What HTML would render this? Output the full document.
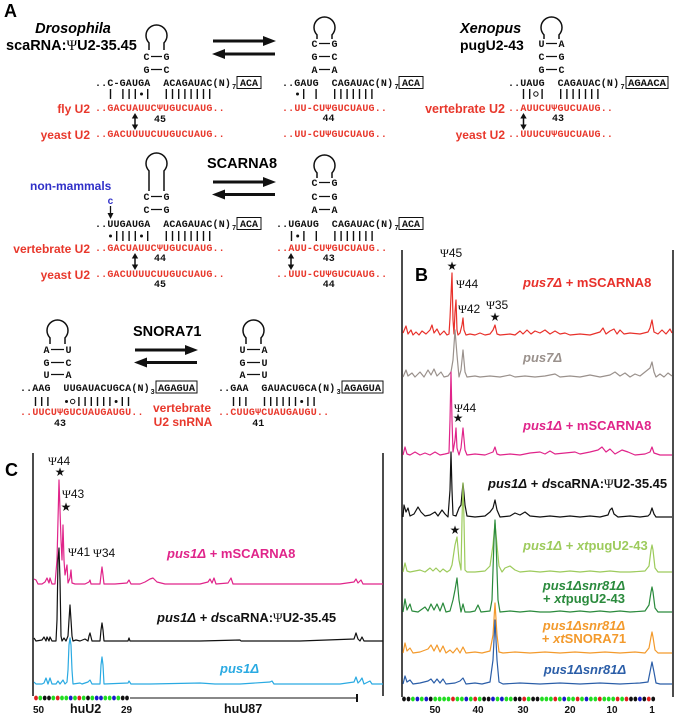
<!DOCTYPE html>
<html><head><meta charset="utf-8"><style>
html,body{margin:0;padding:0;background:#fff}
svg{display:block}
.sq{font-family:"Liberation Mono",monospace;font-weight:bold;font-size:10px}
.lb{font-family:"Liberation Sans",sans-serif;font-weight:bold}
.sf{font-family:"Liberation Serif",serif;font-weight:normal}
.pk{font-family:"Liberation Sans",sans-serif;font-size:12px}
.st{font-family:"DejaVu Sans",sans-serif;font-size:12px}
</style></head><body>
<svg width="675" height="715" viewBox="0 0 675 715" xmlns="http://www.w3.org/2000/svg">
<rect width="675" height="715" fill="#fff"/>

<!-- ===== PANEL A ===== -->
<text class="lb" x="4" y="17" font-size="18">A</text>
<text class="lb" x="73" y="33" font-size="14.5" font-style="italic" text-anchor="middle">Drosophila</text>
<text class="lb" x="6" y="50" font-size="14.5">scaRNA:<tspan class="sf">Ψ</tspan>U2-35.45</text>
<text class="lb" x="460" y="33" font-size="14.5" font-style="italic">Xenopus</text>
<text class="lb" x="460" y="50" font-size="14">pugU2-43</text>

<!-- loops -->
<g fill="none" stroke="#111" stroke-width="1.5">
<path d="M149,50 L149,42.85 A10.5,10.5 0 1 1 164,42.85 L164,50"/>
<path d="M317,39 L317,34.85 A10.5,10.5 0 1 1 332,34.85 L332,39"/>
<path d="M544,39 L544,34.85 A10.5,10.5 0 1 1 559,34.85 L559,39"/>
<path d="M149,191 L149,170.85 A10.5,10.5 0 1 1 164,170.85 L164,191"/>
<path d="M317,178 L317,172.85 A10.5,10.5 0 1 1 332,172.85 L332,178"/>
<path d="M50,344 L50,337.85 A10.5,10.5 0 1 1 65,337.85 L65,344"/>
<path d="M246,344 L246,337.85 A10.5,10.5 0 1 1 261,337.85 L261,344"/>
</g>

<!-- base pairs -->
<g class="sq" text-anchor="middle" fill="#111">
<text x="146.5" y="60">C</text><text x="166.5" y="60">G</text>
<text x="146.5" y="73">G</text><text x="166.5" y="73">C</text>
<text x="314.5" y="47">C</text><text x="334.5" y="47">G</text>
<text x="314.5" y="60">G</text><text x="334.5" y="60">C</text>
<text x="314.5" y="73">A</text><text x="334.5" y="73">A</text>
<text x="541.5" y="47">U</text><text x="561.5" y="47">A</text>
<text x="541.5" y="60">C</text><text x="561.5" y="60">G</text>
<text x="541.5" y="73">G</text><text x="561.5" y="73">C</text>
<text x="146.5" y="200">C</text><text x="166.5" y="200">G</text>
<text x="146.5" y="213">C</text><text x="166.5" y="213">G</text>
<text x="314.5" y="186">C</text><text x="334.5" y="186">G</text>
<text x="314.5" y="200">C</text><text x="334.5" y="200">G</text>
<text x="314.5" y="213">A</text><text x="334.5" y="213">A</text>
<text x="46.5" y="353">A</text><text x="68.5" y="353">U</text>
<text x="46.5" y="366">G</text><text x="68.5" y="366">C</text>
<text x="46.5" y="378">U</text><text x="68.5" y="378">A</text>
<text x="242.5" y="353">U</text><text x="264.5" y="353">A</text>
<text x="242.5" y="366">G</text><text x="264.5" y="366">U</text>
<text x="242.5" y="378">A</text><text x="264.5" y="378">U</text>
</g>
<g stroke="#111" stroke-width="1.2">
<path d="M151,56.5h11 M151,69.5h11 M319,43.5h11 M319,56.5h11 M319,69.5h11 M546,43.5h11 M546,56.5h11 M546,69.5h11 M151,196.5h11 M151,209.5h11 M319,182.5h11 M319,196.5h11 M319,209.5h11 M51,349.5h13 M51,362.5h13 M51,374.5h13 M247,349.5h13 M247,362.5h13 M247,374.5h13"/>
</g>

<!-- black sequences -->
<g class="sq" fill="#111">
<text x="95" y="86" textLength="55.3" lengthAdjust="spacing">..C-GAUGA</text>
<text x="163.2" y="86" textLength="67.7" lengthAdjust="spacing">ACAGAUAC(N)</text>
<text x="232" y="89" font-size="7">7</text>
<text x="282" y="86" textLength="36.7" lengthAdjust="spacing">..GAUG</text>
<text x="331.6" y="86" textLength="61.5" lengthAdjust="spacing">CAGAUAC(N)</text>
<text x="394.5" y="89" font-size="7">7</text>
<text x="508" y="86" textLength="36.7" lengthAdjust="spacing">..UAUG</text>
<text x="557.6" y="86" textLength="61.5" lengthAdjust="spacing">CAGAUAC(N)</text>
<text x="620.5" y="89" font-size="7">7</text>
<text x="95" y="227" textLength="55.3" lengthAdjust="spacing">..UUGAUGA</text>
<text x="163.2" y="227" textLength="67.7" lengthAdjust="spacing">ACAGAUAC(N)</text>
<text x="232" y="230" font-size="7">7</text>
<text x="276" y="227" textLength="42.9" lengthAdjust="spacing">..UGAUG</text>
<text x="331.8" y="227" textLength="61.5" lengthAdjust="spacing">CAGAUAC(N)</text>
<text x="394.5" y="230" font-size="7">7</text>
<text x="20" y="391" textLength="30.5" lengthAdjust="spacing">..AAG</text>
<text x="63.4" y="391" textLength="86.3" lengthAdjust="spacing">UUGAUACUGCA(N)</text>
<text x="150.5" y="394" font-size="7">3</text>
<text x="218" y="391" textLength="30.5" lengthAdjust="spacing">..GAA</text>
<text x="261.4" y="391" textLength="73.9" lengthAdjust="spacing">GAUACUGCA(N)</text>
<text x="336.5" y="394" font-size="7">3</text>
<!-- numbers -->
<g text-anchor="middle">
<text x="160" y="122">45</text>
<text x="328.5" y="121">44</text>
<text x="558" y="121">43</text>
<text x="160" y="261">44</text>
<text x="160" y="287">45</text>
<text x="328.7" y="261">43</text>
<text x="328.7" y="287">44</text>
<text x="60" y="426">43</text>
<text x="258.3" y="426">41</text>
</g>
</g>

<!-- boxes -->
<g fill="none" stroke="#111" stroke-width="1">
<rect x="237" y="76.5" width="24" height="12"/>
<rect x="399" y="76.5" width="24" height="12"/>
<rect x="626" y="76.5" width="42" height="12"/>
<rect x="237" y="217.5" width="24" height="12"/>
<rect x="399" y="217.5" width="24" height="12"/>
<rect x="156" y="381" width="41" height="12"/>
<rect x="342" y="381" width="41" height="12"/>
</g>
<g class="sq" fill="#111" text-anchor="middle">
<text x="249" y="86">ACA</text>
<text x="411" y="86">ACA</text>
<text x="647" y="86" textLength="38" lengthAdjust="spacingAndGlyphs">AGAACA</text>
<text x="249" y="227">ACA</text>
<text x="411" y="227">ACA</text>
<text x="176.5" y="391" textLength="37" lengthAdjust="spacingAndGlyphs">AGAGUA</text>
<text x="362.5" y="391" textLength="37" lengthAdjust="spacingAndGlyphs">AGAGUA</text>
</g>

<!-- ticks -->
<g stroke="#111" stroke-width="1.4" fill="none">
<path d="M110.5,89v10 M122.9,89v10 M129.1,89v10 M135.3,89v10 M147.7,89v10 M166.3,89v10 M172.5,89v10 M178.7,89v10 M184.9,89v10 M191.1,89v10 M197.3,89v10 M203.5,89v10 M209.7,89v10"/>
<path d="M303.7,89v10 M316.1,89v10 M334.7,89v10 M340.9,89v10 M347.1,89v10 M353.3,89v10 M359.5,89v10 M365.7,89v10 M371.9,89v10"/>
<path d="M523.5,89v10 M529.7,89v10 M542.1,89v10 M560.7,89v10 M566.9,89v10 M573.1,89v10 M579.3,89v10 M585.5,89v10 M591.7,89v10 M597.9,89v10"/>
<path d="M116.7,231v10 M122.9,231v10 M129.1,231v10 M135.3,231v10 M147.7,231v10 M166.3,231v10 M172.5,231v10 M178.7,231v10 M184.9,231v10 M191.1,231v10 M197.3,231v10 M203.5,231v10 M209.7,231v10"/>
<path d="M291.5,231v10 M303.9,231v10 M316.3,231v10 M334.9,231v10 M341.1,231v10 M347.3,231v10 M353.5,231v10 M359.7,231v10 M365.9,231v10 M372.1,231v10"/>
<path d="M35.5,397v9 M41.7,397v9 M47.9,397v9 M78.9,397v9 M85.1,397v9 M91.3,397v9 M97.5,397v9 M103.7,397v9 M109.9,397v9 M122.3,397v9 M128.5,397v9"/>
<path d="M233.5,397v9 M239.7,397v9 M245.9,397v9 M264.5,397v9 M270.7,397v9 M276.9,397v9 M283.1,397v9 M289.3,397v9 M295.5,397v9 M307.9,397v9 M314.1,397v9"/>
<circle cx="535.9" cy="94" r="2.2" stroke-width="1"/>
<circle cx="72.7" cy="401.5" r="2.2" stroke-width="1"/>
</g>
<g fill="#111">
<circle cx="141.5" cy="94" r="1.5"/>
<circle cx="297.5" cy="94" r="1.5"/>
<circle cx="110.5" cy="236" r="1.5"/>
<circle cx="141.5" cy="236" r="1.5"/>
<circle cx="297.7" cy="236" r="1.5"/>
<circle cx="66.5" cy="401.5" r="1.5"/>
<circle cx="116.1" cy="401.5" r="1.5"/>
<circle cx="301.7" cy="401.5" r="1.5"/>
</g>

<!-- red sequences -->
<g class="sq" fill="#e8382c">
<text x="95" y="111" textLength="129.7" lengthAdjust="spacing">..GACUAUUCΨUGUCUAUG..</text>
<text x="95" y="137" textLength="129.7" lengthAdjust="spacing">..GACUUUUCUUGUCUAUG..</text>
<text x="282" y="111" textLength="104.9" lengthAdjust="spacing">..UU-CUΨGUCUAUG..</text>
<text x="282" y="137" textLength="104.9" lengthAdjust="spacing">..UU-CUΨGUCUAUG..</text>
<text x="508" y="111" textLength="104.9" lengthAdjust="spacing">..AUUCUΨGUCUAUG..</text>
<text x="508" y="137" textLength="104.9" lengthAdjust="spacing">..UUUCUΨGUCUAUG..</text>
<text x="95" y="251" textLength="129.7" lengthAdjust="spacing">..GACUAUUCΨUGUCUAUG..</text>
<text x="95" y="277" textLength="129.7" lengthAdjust="spacing">..GACUUUUCUUGUCUAUG..</text>
<text x="276" y="251" textLength="111.1" lengthAdjust="spacing">..AUU-CUΨGUCUAUG..</text>
<text x="276" y="277" textLength="111.1" lengthAdjust="spacing">..UUU-CUΨGUCUAUG..</text>
<text x="20" y="415" textLength="123.5" lengthAdjust="spacing">..UUCUΨGUCUAUGAUGU..</text>
<text x="218" y="415" textLength="111.1" lengthAdjust="spacing">..CUUGΨCUAUGAUGU..</text>
</g>

<!-- red labels -->
<g class="lb" fill="#e8382c" font-size="12" text-anchor="end">
<text x="90" y="113">fly U2</text>
<text x="90" y="139">yeast U2</text>
<text x="505" y="113" font-size="12.5">vertebrate U2</text>
<text x="505" y="139">yeast U2</text>
<text x="90" y="253">vertebrate U2</text>
<text x="90" y="279">yeast U2</text>
</g>
<g class="lb" fill="#e8382c" font-size="12" text-anchor="middle">
<text x="182" y="412">vertebrate</text>
<text x="183" y="426">U2 snRNA</text>
</g>
<text class="lb" x="30" y="190" font-size="12" fill="#3030c8">non-mammals</text>
<text class="sq" x="110.5" y="204" fill="#3030c8" text-anchor="middle">c</text>
<g stroke="#111" stroke-width="1.3" fill="#111">
<line x1="110.5" y1="206" x2="110.5" y2="214"/>
<polygon points="110.5,219 107.5,213 113.5,213" stroke="none"/>
</g>

<!-- double arrows -->
<g stroke="#111" stroke-width="1.5" fill="#111">
<line x1="135" y1="117" x2="135" y2="126"/>
<polygon points="135,113 131.8,118.5 138.2,118.5" stroke="none"/>
<polygon points="135,130 131.8,124.5 138.2,124.5" stroke="none"/>
<line x1="523.5" y1="117" x2="523.5" y2="126"/>
<polygon points="523.5,113 520.3,118.5 526.7,118.5" stroke="none"/>
<polygon points="523.5,130 520.3,124.5 526.7,124.5" stroke="none"/>
<line x1="135" y1="257" x2="135" y2="266"/>
<polygon points="135,253 131.8,258.5 138.2,258.5" stroke="none"/>
<polygon points="135,270 131.8,264.5 138.2,264.5" stroke="none"/>
<line x1="291" y1="257" x2="291" y2="266"/>
<polygon points="291,253 287.8,258.5 294.2,258.5" stroke="none"/>
<polygon points="291,270 287.8,264.5 294.2,264.5" stroke="none"/>
</g>

<!-- equilibrium arrows -->
<text class="lb" x="207" y="168" font-size="14.5">SCARNA8</text>
<text class="lb" x="133" y="336" font-size="14.5">SNORA71</text>
<g stroke="#111" stroke-width="3" fill="#111">
<line x1="213" y1="41" x2="265" y2="41"/>
<polygon points="276,41 263,36 263,46" stroke="none"/>
<line x1="224" y1="54" x2="275" y2="54"/>
<polygon points="212,54 225,49 225,59" stroke="none"/>
<line x1="213" y1="182" x2="265" y2="182"/>
<polygon points="276,182 263,177 263,187" stroke="none"/>
<line x1="224" y1="194.5" x2="275" y2="194.5"/>
<polygon points="212,194.5 225,189.5 225,199.5" stroke="none"/>
<line x1="135" y1="350" x2="187" y2="350"/>
<polygon points="198,350 185,345 185,355" stroke="none"/>
<line x1="146" y1="362.5" x2="197" y2="362.5"/>
<polygon points="134,362.5 147,357.5 147,367.5" stroke="none"/>
</g>

<!-- ===== PANEL B ===== -->
<text class="lb" x="415" y="281" font-size="18">B</text>
<g stroke="#111" stroke-width="1.5">
<line x1="402" y1="250" x2="402" y2="697"/>
<line x1="673" y1="250" x2="673" y2="697"/>
</g>
<g fill="none" stroke-width="1.2" stroke-linejoin="round">
<polyline stroke="#e8302a" points="403,333 406,326 408,334 411,330 413,335 416,332 419,335 422,331 426,334 430,330 432,325 434,333 437,329 440,335 444,331 447,335 449,334 450,318 452,273 453,320 454,334 455,312 456,300 457,330 458,335 460,333 462,325 463,318 464,330 466,335 470,334 475,335 480,333 485,335 490,334 493,330 495,325 497,334 500,335 510,334 515,335 520,331 523,334 527,330 531,334 535,331 540,333 545,330 550,334 555,331 560,334 565,333 570,335 580,334 590,335 600,332 603,328 606,334 610,331 614,329 617,334 620,330 624,334 630,333 640,334 648,332 650,328 652,320 654,332 658,334 662,330 666,334 670,329 672,333"/>
<polyline stroke="#9a918c" points="403,377 406,370 408,376 412,373 415,377 420,372 424,377 428,370 431,375 434,369 437,376 441,372 444,377 448,376 451,372 453,360 455,330 457,355 459,377 461,370 463,350 465,372 467,377 475,376 480,377 490,376 500,377 510,375 515,377 525,376 535,377 545,376 555,374 560,377 570,376 580,377 590,375 600,377 610,375 615,372 620,376 625,373 630,377 635,374 640,376 645,372 650,368 652,362 654,372 656,377 660,374 664,377 668,373 672,376"/>
<polyline stroke="#e0248a" points="403,455 405,447 407,454 410,455 415,452 420,455 425,453 430,455 435,452 440,455 445,454 449,453 450,420 451,372 452,420 453,452 455,440 456,428 457,448 459,455 461,448 463,428 465,450 467,455 475,454 485,455 493,452 495,447 497,454 500,455 510,454 520,455 530,453 540,452 545,454 550,451 555,454 565,453 575,452 580,454 590,452 598,450 602,447 606,452 610,449 615,454 622,450 628,452 635,455 645,454 650,452 652,447 654,453 660,455 672,455"/>
<polyline stroke="#111" points="403,517 404,505 406,512 408,508 410,516 414,514 418,507 421,512 425,516 430,515 435,512 438,516 442,510 445,514 448,517 450,490 451,452 452,490 453,515 456,516 459,508 461,505 463,483 465,505 467,516 475,517 485,516 490,512 493,508 495,500 497,510 500,517 510,516 515,513 520,515 525,512 530,516 540,517 550,516 560,517 570,516 580,517 590,516 600,517 608,515 610,510 612,508 614,514 618,517 630,516 640,517 648,516 650,514 652,508 654,514 656,517 672,517"/>
<polyline stroke="#9dcb5c" points="403,572 405,563 407,571 410,572 420,570 425,572 430,568 433,571 436,568 440,572 443,569 447,572 450,570 452,565 455,545 457,537 459,560 461,570 462,520 463,483 464,520 465,570 467,572 475,572 485,571 490,566 493,545 495,523 497,545 499,566 502,572 505,568 510,566 515,570 520,572 530,571 540,572 550,571 560,572 570,571 580,572 590,571 600,572 610,571 620,572 630,572 645,571 649,566 651,550 652,545 653,550 655,568 658,572 672,572"/>
<polyline stroke="#2a8a3c" points="403,612 405,599 407,610 410,604 412,611 418,612 425,607 428,611 431,604 434,610 437,604 440,611 443,603 446,612 450,611 453,600 455,590 457,578 459,600 461,612 463,604 465,612 470,612 475,611 478,605 481,612 490,611 492,600 494,540 495,520 496,540 498,600 500,612 510,611 520,612 530,611 540,612 550,612 560,611 570,612 580,611 590,612 600,611 610,612 620,611 630,612 645,611 649,605 651,592 652,587 653,592 655,608 658,612 672,612"/>
<polyline stroke="#f39a2c" points="403,653 405,643 407,651 410,648 413,653 420,652 428,649 431,645 434,651 437,645 440,652 443,646 446,653 450,650 453,653 457,648 460,653 463,647 466,653 475,652 482,653 490,651 493,635 495,603 497,635 499,652 503,653 515,652 530,653 545,652 560,653 575,652 590,653 605,652 620,653 635,652 645,653 649,648 651,637 652,632 653,637 655,650 658,653 672,653"/>
<polyline stroke="#2b5ea8" points="403,684 405,676 407,682 410,680 413,684 420,683 428,681 431,679 434,683 437,679 440,683 443,679 446,684 455,683 460,681 463,678 466,684 475,683 482,684 490,682 493,660 495,620 497,660 499,682 503,684 520,683 540,684 560,683 580,684 600,683 620,684 640,683 648,682 650,672 652,662 654,672 656,683 660,684 672,684"/>
</g>
<!-- B peak labels -->
<g class="pk" fill="#111">
<text x="440" y="257"><tspan class="sf">Ψ</tspan>45</text>
<text x="456" y="288"><tspan class="sf">Ψ</tspan>44</text>
<text x="458" y="313"><tspan class="sf">Ψ</tspan>42</text>
<text x="486" y="309"><tspan class="sf">Ψ</tspan>35</text>
<text x="454" y="412"><tspan class="sf">Ψ</tspan>44</text>
</g>
<g class="st" fill="#111" text-anchor="middle">
<text x="452" y="270">★</text>
<text x="495" y="321">★</text>
<text x="458" y="422">★</text>
<text x="455" y="534">★</text>
</g>
<!-- B trace labels -->
<g class="lb" font-size="13">
<text x="523" y="287" fill="#e8302a"><tspan font-style="italic">pus7Δ</tspan> + mSCARNA8</text>
<text x="523" y="362" fill="#9a918c" font-style="italic">pus7Δ</text>
<text x="523" y="430" fill="#e0248a"><tspan font-style="italic">pus1Δ</tspan> + mSCARNA8</text>
<text x="488" y="488" fill="#111"><tspan font-style="italic">pus1Δ</tspan> + <tspan font-style="italic">d</tspan>scaRNA:<tspan class="sf">Ψ</tspan>U2-35.45</text>
<text x="523" y="550" fill="#9dcb5c"><tspan font-style="italic">pus1Δ</tspan> + <tspan font-style="italic">xt</tspan>pugU2-43</text>
<g text-anchor="middle">
<text x="584" y="590" fill="#2a8a3c" font-style="italic">pus1Δsnr81Δ</text>
<text x="584" y="603" fill="#2a8a3c">+ <tspan font-style="italic">xt</tspan>pugU2-43</text>
<text x="584" y="630" fill="#f39a2c" font-style="italic">pus1Δsnr81Δ</text>
<text x="584" y="643" fill="#f39a2c">+ <tspan font-style="italic">xt</tspan>SNORA71</text>
<text x="585" y="674" fill="#2b5ea8" font-style="italic">pus1Δsnr81Δ</text>
</g>
</g>
<!-- B dots -->
<g>
<ellipse cx="404.0" cy="699" rx="1.9" ry="2.4" fill="#111"/>
<ellipse cx="408.5" cy="699" rx="1.9" ry="2.4" fill="#111"/>
<ellipse cx="412.9" cy="699" rx="1.9" ry="2.4" fill="#22dd22"/>
<ellipse cx="417.4" cy="699" rx="1.9" ry="2.4" fill="#1a1acc"/>
<ellipse cx="421.8" cy="699" rx="1.9" ry="2.4" fill="#22dd22"/>
<ellipse cx="426.3" cy="699" rx="1.9" ry="2.4" fill="#1a1acc"/>
<ellipse cx="430.7" cy="699" rx="1.9" ry="2.4" fill="#111"/>
<ellipse cx="435.2" cy="699" rx="1.9" ry="2.4" fill="#22dd22"/>
<ellipse cx="439.6" cy="699" rx="1.9" ry="2.4" fill="#22dd22"/>
<ellipse cx="444.1" cy="699" rx="1.9" ry="2.4" fill="#22dd22"/>
<ellipse cx="448.5" cy="699" rx="1.9" ry="2.4" fill="#22dd22"/>
<ellipse cx="453.0" cy="699" rx="1.9" ry="2.4" fill="#e02020"/>
<ellipse cx="457.4" cy="699" rx="1.9" ry="2.4" fill="#22dd22"/>
<ellipse cx="461.9" cy="699" rx="1.9" ry="2.4" fill="#22dd22"/>
<ellipse cx="466.3" cy="699" rx="1.9" ry="2.4" fill="#1a1acc"/>
<ellipse cx="470.8" cy="699" rx="1.9" ry="2.4" fill="#22dd22"/>
<ellipse cx="475.2" cy="699" rx="1.9" ry="2.4" fill="#e02020"/>
<ellipse cx="479.7" cy="699" rx="1.9" ry="2.4" fill="#22dd22"/>
<ellipse cx="484.1" cy="699" rx="1.9" ry="2.4" fill="#111"/>
<ellipse cx="488.6" cy="699" rx="1.9" ry="2.4" fill="#111"/>
<ellipse cx="493.0" cy="699" rx="1.9" ry="2.4" fill="#1a1acc"/>
<ellipse cx="497.5" cy="699" rx="1.9" ry="2.4" fill="#22dd22"/>
<ellipse cx="501.9" cy="699" rx="1.9" ry="2.4" fill="#1a1acc"/>
<ellipse cx="506.4" cy="699" rx="1.9" ry="2.4" fill="#22dd22"/>
<ellipse cx="510.8" cy="699" rx="1.9" ry="2.4" fill="#22dd22"/>
<ellipse cx="515.3" cy="699" rx="1.9" ry="2.4" fill="#111"/>
<ellipse cx="519.7" cy="699" rx="1.9" ry="2.4" fill="#111"/>
<ellipse cx="524.2" cy="699" rx="1.9" ry="2.4" fill="#e02020"/>
<ellipse cx="528.6" cy="699" rx="1.9" ry="2.4" fill="#22dd22"/>
<ellipse cx="533.1" cy="699" rx="1.9" ry="2.4" fill="#111"/>
<ellipse cx="537.5" cy="699" rx="1.9" ry="2.4" fill="#111"/>
<ellipse cx="542.0" cy="699" rx="1.9" ry="2.4" fill="#22dd22"/>
<ellipse cx="546.4" cy="699" rx="1.9" ry="2.4" fill="#22dd22"/>
<ellipse cx="550.9" cy="699" rx="1.9" ry="2.4" fill="#22dd22"/>
<ellipse cx="555.3" cy="699" rx="1.9" ry="2.4" fill="#e02020"/>
<ellipse cx="559.8" cy="699" rx="1.9" ry="2.4" fill="#22dd22"/>
<ellipse cx="564.2" cy="699" rx="1.9" ry="2.4" fill="#1a1acc"/>
<ellipse cx="568.7" cy="699" rx="1.9" ry="2.4" fill="#22dd22"/>
<ellipse cx="573.1" cy="699" rx="1.9" ry="2.4" fill="#22dd22"/>
<ellipse cx="577.6" cy="699" rx="1.9" ry="2.4" fill="#e02020"/>
<ellipse cx="582.0" cy="699" rx="1.9" ry="2.4" fill="#22dd22"/>
<ellipse cx="586.5" cy="699" rx="1.9" ry="2.4" fill="#1a1acc"/>
<ellipse cx="590.9" cy="699" rx="1.9" ry="2.4" fill="#22dd22"/>
<ellipse cx="595.4" cy="699" rx="1.9" ry="2.4" fill="#22dd22"/>
<ellipse cx="599.8" cy="699" rx="1.9" ry="2.4" fill="#e02020"/>
<ellipse cx="604.3" cy="699" rx="1.9" ry="2.4" fill="#22dd22"/>
<ellipse cx="608.7" cy="699" rx="1.9" ry="2.4" fill="#22dd22"/>
<ellipse cx="613.2" cy="699" rx="1.9" ry="2.4" fill="#22dd22"/>
<ellipse cx="617.6" cy="699" rx="1.9" ry="2.4" fill="#e02020"/>
<ellipse cx="622.1" cy="699" rx="1.9" ry="2.4" fill="#22dd22"/>
<ellipse cx="626.5" cy="699" rx="1.9" ry="2.4" fill="#e02020"/>
<ellipse cx="631.0" cy="699" rx="1.9" ry="2.4" fill="#111"/>
<ellipse cx="635.4" cy="699" rx="1.9" ry="2.4" fill="#111"/>
<ellipse cx="639.9" cy="699" rx="1.9" ry="2.4" fill="#1a1acc"/>
<ellipse cx="644.3" cy="699" rx="1.9" ry="2.4" fill="#111"/>
<ellipse cx="648.8" cy="699" rx="1.9" ry="2.4" fill="#e02020"/>
<ellipse cx="653.2" cy="699" rx="1.9" ry="2.4" fill="#111"/>
</g>
<g class="lb" font-size="10" fill="#111" text-anchor="middle">
<text x="435" y="713">50</text>
<text x="478" y="713">40</text>
<text x="523" y="713">30</text>
<text x="570" y="713">20</text>
<text x="612" y="713">10</text>
<text x="652" y="713">1</text>
</g>

<!-- ===== PANEL C ===== -->
<text class="lb" x="5" y="476" font-size="18">C</text>
<g stroke="#111" stroke-width="1.5">
<line x1="33" y1="453" x2="33" y2="696"/>
<line x1="383" y1="453" x2="383" y2="696"/>
</g>
<g fill="none" stroke-width="1.2" stroke-linejoin="round">
<polyline stroke="#e0248a" points="34,579 36,580 38,584 42,584 45,582 47,578 49,583 50,578 52,584 55,584 57,560 59,480 61,540 62,560 63,525 64,560 65,575 67,565 68,583 70,578 71,570 72,583 75,584 85,584 89,582 90,580 91,584 100,584 101,575 102,567 103,575 104,584 115,584 127,583 129,580 131,584 140,584 145,582 150,579 153,578 157,582 165,584 180,584 200,584 208,582 210,579 212,583 214,578 216,584 228,583 231,578 233,584 250,584 280,584 300,584 320,584 340,584 354,582 356,579 358,583 361,580 363,584 383,584"/>
<polyline stroke="#111" points="34,638 36,641 42,640 44,637 46,641 47,637 49,641 50,637 52,641 56,641 57,620 58,560 59,548 60,580 61,636 62,641 64,638 66,641 68,636 69,620 70,605 71,620 72,636 73,641 76,640 80,641 85,639 88,641 89,636 90,633 91,637 92,641 100,641 101,630 102,623 103,630 104,641 128,641 129,638 130,641 200,641 240,640 241,641 300,641 354,639 356,633 358,639 360,641 362,637 364,641 383,641"/>
<polyline stroke="#2aaae2" points="34,682 36,684 42,684 44,683 46,678 48,684 50,678 52,684 56,684 58,681 60,684 63,680 65,684 67,682 68,670 69,645 70,638 71,645 72,670 73,684 80,683 82,684 88,682 90,680 92,684 100,684 101,665 102,657 103,665 104,684 128,683 129,681 131,684 150,684 200,683 215,684 240,684 270,682 272,681 274,684 300,684 340,684 354,682 356,677 358,683 360,681 362,678 364,684 370,681 372,684 383,684"/>
</g>
<g class="pk" fill="#111">
<text x="48" y="465"><tspan class="sf">Ψ</tspan>44</text>
<text x="62" y="498"><tspan class="sf">Ψ</tspan>43</text>
<text x="68" y="556"><tspan class="sf">Ψ</tspan>41</text>
<text x="93" y="557"><tspan class="sf">Ψ</tspan>34</text>
</g>
<g class="st" fill="#111" text-anchor="middle">
<text x="60" y="476">★</text>
<text x="66" y="511">★</text>
</g>
<g class="lb" font-size="13">
<text x="167" y="558" fill="#e0248a"><tspan font-style="italic">pus1Δ</tspan> + mSCARNA8</text>
<text x="157" y="622" fill="#111"><tspan font-style="italic">pus1Δ</tspan> + <tspan font-style="italic">d</tspan>scaRNA:<tspan class="sf">Ψ</tspan>U2-35.45</text>
<text x="220" y="673" fill="#2aaae2" font-style="italic">pus1Δ</text>
</g>
<!-- C dots -->
<g>
<ellipse cx="36.0" cy="698" rx="1.9" ry="2.4" fill="#e02020"/>
<ellipse cx="40.3" cy="698" rx="1.9" ry="2.4" fill="#22dd22"/>
<ellipse cx="44.7" cy="698" rx="1.9" ry="2.4" fill="#111"/>
<ellipse cx="49.0" cy="698" rx="1.9" ry="2.4" fill="#111"/>
<ellipse cx="53.3" cy="698" rx="1.9" ry="2.4" fill="#22dd22"/>
<ellipse cx="57.7" cy="698" rx="1.9" ry="2.4" fill="#e02020"/>
<ellipse cx="62.0" cy="698" rx="1.9" ry="2.4" fill="#22dd22"/>
<ellipse cx="66.3" cy="698" rx="1.9" ry="2.4" fill="#22dd22"/>
<ellipse cx="70.7" cy="698" rx="1.9" ry="2.4" fill="#1a1acc"/>
<ellipse cx="75.0" cy="698" rx="1.9" ry="2.4" fill="#22dd22"/>
<ellipse cx="79.3" cy="698" rx="1.9" ry="2.4" fill="#e02020"/>
<ellipse cx="83.7" cy="698" rx="1.9" ry="2.4" fill="#22dd22"/>
<ellipse cx="88.0" cy="698" rx="1.9" ry="2.4" fill="#111"/>
<ellipse cx="92.3" cy="698" rx="1.9" ry="2.4" fill="#22dd22"/>
<ellipse cx="96.7" cy="698" rx="1.9" ry="2.4" fill="#1a1acc"/>
<ellipse cx="101.0" cy="698" rx="1.9" ry="2.4" fill="#1a1acc"/>
<ellipse cx="105.3" cy="698" rx="1.9" ry="2.4" fill="#22dd22"/>
<ellipse cx="109.7" cy="698" rx="1.9" ry="2.4" fill="#22dd22"/>
<ellipse cx="114.0" cy="698" rx="1.9" ry="2.4" fill="#1a1acc"/>
<ellipse cx="118.3" cy="698" rx="1.9" ry="2.4" fill="#22dd22"/>
<ellipse cx="122.7" cy="698" rx="1.9" ry="2.4" fill="#111"/>
<ellipse cx="127.0" cy="698" rx="1.9" ry="2.4" fill="#111"/>
</g>
<line x1="130" y1="698" x2="357" y2="698" stroke="#888" stroke-width="2"/>
<line x1="357" y1="694" x2="357" y2="702" stroke="#111" stroke-width="2"/>
<g class="lb" fill="#111">
<text x="33" y="713" font-size="10">50</text>
<text x="70" y="713" font-size="12.5">huU2</text>
<text x="121" y="713" font-size="10">29</text>
<text x="224" y="713" font-size="12.5">huU87</text>
</g>
</svg>
</body></html>
